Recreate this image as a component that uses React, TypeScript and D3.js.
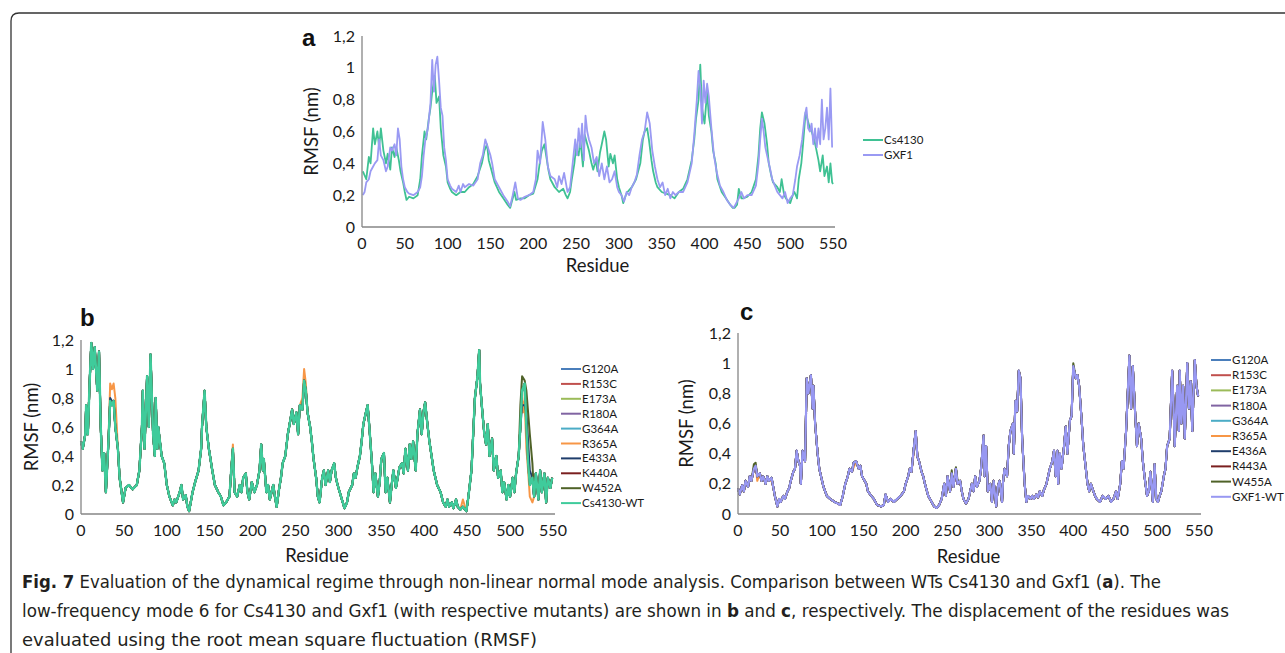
import React from 'react';
import * as d3 from 'd3';

type Pt = [number, number];

const residueTicks = [0, 50, 100, 150, 200, 250, 300, 350, 400, 450, 500, 550];
const rmsfTicks = [0, 0.2, 0.4, 0.6, 0.8, 1, 1.2];

// panel a: WT comparison
const cs4130A: Pt[] = [
  [1, 0.35], [5, 0.3], [8, 0.44], [10, 0.4], [13, 0.62], [15, 0.52], [18, 0.6], [20, 0.5], [22, 0.62], [25, 0.48],
  [28, 0.4], [30, 0.46], [33, 0.36], [35, 0.5], [38, 0.44], [40, 0.5], [43, 0.42], [45, 0.35], [48, 0.28], [50, 0.22],
  [52, 0.17], [55, 0.19], [60, 0.18], [65, 0.2], [68, 0.3], [70, 0.45], [73, 0.6], [75, 0.55], [78, 0.68], [80, 0.75],
  [82, 0.85], [85, 0.95], [87, 0.78], [90, 0.82], [92, 0.62], [95, 0.45], [98, 0.38], [100, 0.28], [103, 0.24], [105, 0.22],
  [110, 0.2], [115, 0.22], [120, 0.22], [125, 0.25], [130, 0.27], [135, 0.32], [140, 0.4], [143, 0.48], [146, 0.52], [148, 0.42],
  [150, 0.38], [155, 0.28], [160, 0.22], [165, 0.18], [170, 0.14], [173, 0.12], [175, 0.16], [178, 0.22], [180, 0.17], [185, 0.18],
  [190, 0.18], [195, 0.2], [200, 0.21], [205, 0.3], [208, 0.42], [210, 0.48], [213, 0.52], [215, 0.45], [218, 0.35], [220, 0.3],
  [225, 0.25], [230, 0.22], [235, 0.24], [238, 0.2], [240, 0.18], [243, 0.22], [245, 0.3], [248, 0.4], [250, 0.5], [253, 0.45],
  [255, 0.55], [258, 0.38], [260, 0.58], [263, 0.52], [265, 0.48], [268, 0.4], [270, 0.36], [273, 0.42], [275, 0.35], [278, 0.47],
  [280, 0.52], [283, 0.6], [285, 0.55], [288, 0.38], [290, 0.46], [293, 0.4], [295, 0.45], [298, 0.3], [300, 0.25], [303, 0.2],
  [305, 0.15], [308, 0.2], [310, 0.22], [315, 0.25], [320, 0.3], [325, 0.4], [328, 0.55], [330, 0.6], [333, 0.62], [335, 0.55],
  [338, 0.42], [340, 0.35], [343, 0.28], [345, 0.25], [350, 0.22], [355, 0.21], [360, 0.2], [365, 0.18], [370, 0.22], [375, 0.24],
  [380, 0.3], [385, 0.42], [388, 0.55], [390, 0.68], [393, 0.8], [395, 1.02], [397, 0.75], [400, 0.65], [403, 0.85], [405, 0.7],
  [408, 0.6], [410, 0.48], [413, 0.4], [415, 0.3], [420, 0.22], [425, 0.18], [430, 0.14], [433, 0.12], [435, 0.12], [438, 0.14],
  [440, 0.24], [443, 0.18], [445, 0.18], [450, 0.19], [455, 0.22], [460, 0.3], [463, 0.45], [465, 0.62], [467, 0.72], [470, 0.65],
  [473, 0.52], [475, 0.4], [478, 0.32], [480, 0.28], [485, 0.25], [488, 0.22], [490, 0.3], [493, 0.2], [495, 0.18], [500, 0.15],
  [503, 0.2], [505, 0.22], [508, 0.18], [510, 0.3], [513, 0.4], [515, 0.52], [518, 0.72], [520, 0.68], [523, 0.62], [525, 0.6],
  [528, 0.55], [530, 0.5], [533, 0.42], [535, 0.35], [538, 0.45], [540, 0.32], [543, 0.38], [545, 0.28], [547, 0.4], [549, 0.28], [550, 0.27],
];

const gxf1A: Pt[] = [
  [1, 0.2], [3, 0.22], [5, 0.28], [8, 0.3], [10, 0.35], [13, 0.38], [15, 0.4], [18, 0.42], [20, 0.55], [22, 0.45],
  [25, 0.42], [28, 0.35], [30, 0.38], [33, 0.5], [35, 0.48], [38, 0.52], [40, 0.45], [42, 0.62], [44, 0.55], [46, 0.38],
  [48, 0.3], [50, 0.25], [53, 0.22], [55, 0.21], [60, 0.2], [65, 0.22], [68, 0.25], [70, 0.32], [72, 0.45], [74, 0.55],
  [77, 0.62], [80, 0.78], [82, 1.05], [84, 0.85], [86, 1.02], [88, 1.07], [90, 0.92], [92, 0.75], [94, 0.7], [96, 0.5],
  [98, 0.42], [100, 0.3], [103, 0.26], [105, 0.24], [110, 0.22], [113, 0.26], [115, 0.22], [118, 0.27], [120, 0.25], [125, 0.27],
  [130, 0.26], [135, 0.3], [138, 0.4], [141, 0.45], [144, 0.55], [147, 0.5], [150, 0.45], [152, 0.4], [155, 0.3], [160, 0.25],
  [165, 0.2], [170, 0.16], [173, 0.13], [176, 0.2], [179, 0.28], [182, 0.18], [185, 0.17], [190, 0.19], [195, 0.2], [200, 0.22],
  [203, 0.3], [205, 0.48], [208, 0.4], [211, 0.66], [214, 0.55], [217, 0.38], [220, 0.32], [225, 0.3], [228, 0.25], [230, 0.32],
  [233, 0.27], [236, 0.34], [240, 0.22], [243, 0.25], [246, 0.4], [249, 0.55], [251, 0.45], [253, 0.62], [255, 0.5], [257, 0.65],
  [259, 0.42], [261, 0.7], [263, 0.6], [265, 0.55], [268, 0.5], [271, 0.4], [274, 0.44], [277, 0.32], [280, 0.4], [283, 0.3],
  [286, 0.38], [289, 0.28], [292, 0.3], [295, 0.35], [298, 0.25], [300, 0.22], [303, 0.2], [306, 0.16], [309, 0.22], [312, 0.2],
  [315, 0.25], [318, 0.28], [321, 0.33], [324, 0.45], [327, 0.55], [330, 0.6], [333, 0.72], [336, 0.65], [339, 0.48], [342, 0.38],
  [345, 0.3], [348, 0.25], [351, 0.28], [354, 0.2], [357, 0.24], [360, 0.18], [363, 0.22], [366, 0.2], [370, 0.22], [375, 0.22],
  [380, 0.28], [385, 0.4], [388, 0.58], [391, 0.8], [393, 0.98], [395, 0.88], [397, 0.65], [399, 0.92], [401, 0.78], [403, 0.9],
  [405, 0.82], [408, 0.62], [411, 0.45], [414, 0.35], [418, 0.26], [422, 0.22], [426, 0.17], [430, 0.14], [434, 0.12], [437, 0.15],
  [440, 0.18], [443, 0.22], [446, 0.18], [450, 0.2], [455, 0.2], [460, 0.26], [463, 0.4], [465, 0.55], [467, 0.68], [469, 0.6],
  [471, 0.5], [473, 0.45], [476, 0.38], [479, 0.3], [482, 0.26], [485, 0.22], [488, 0.2], [491, 0.18], [494, 0.22], [497, 0.15],
  [500, 0.18], [503, 0.2], [506, 0.3], [508, 0.38], [511, 0.45], [514, 0.55], [517, 0.7], [519, 0.75], [521, 0.62], [523, 0.6],
  [525, 0.65], [527, 0.52], [529, 0.62], [531, 0.5], [533, 0.62], [535, 0.52], [537, 0.8], [539, 0.55], [541, 0.62], [543, 0.75],
  [545, 0.55], [547, 0.87], [549, 0.5],
];

// panel b: Cs4130 mode 6
const cs4130Mode6: Pt[] = [
  [0, 0.5], [2, 0.45], [5, 0.55], [6, 0.75], [8, 0.55], [10, 0.9], [12, 1.18], [14, 1.0], [16, 1.15], [19, 0.85],
  [21, 1.12], [23, 0.6], [25, 0.3], [27, 0.42], [29, 0.15], [32, 0.5], [34, 0.78], [36, 0.75], [38, 0.78], [40, 0.6],
  [43, 0.45], [45, 0.25], [49, 0.08], [52, 0.18], [56, 0.2], [60, 0.17], [65, 0.2], [68, 0.3], [71, 0.6], [72, 0.85],
  [74, 0.45], [77, 0.95], [79, 0.6], [81, 1.1], [84, 0.55], [86, 0.4], [87, 0.8], [89, 0.45], [90, 0.6], [94, 0.4],
  [97, 0.35], [100, 0.2], [103, 0.12], [107, 0.06], [109, 0.1], [111, 0.08], [115, 0.15], [117, 0.2], [119, 0.1], [122, 0.13],
  [124, 0.05], [126, 0.02], [130, 0.15], [133, 0.22], [137, 0.3], [140, 0.45], [141, 0.6], [144, 0.85], [146, 0.6], [149, 0.45],
  [153, 0.3], [156, 0.2], [160, 0.15], [163, 0.12], [166, 0.06], [169, 0.08], [173, 0.12], [175, 0.3], [177, 0.45], [179, 0.15],
  [182, 0.12], [185, 0.2], [187, 0.15], [189, 0.25], [192, 0.28], [194, 0.15], [196, 0.1], [199, 0.22], [202, 0.15], [205, 0.2],
  [208, 0.3], [210, 0.48], [212, 0.3], [213, 0.38], [216, 0.15], [218, 0.2], [220, 0.1], [224, 0.2], [226, 0.12], [228, 0.05],
  [231, 0.18], [233, 0.25], [235, 0.35], [238, 0.4], [241, 0.55], [244, 0.65], [246, 0.72], [248, 0.62], [251, 0.7], [253, 0.55],
  [255, 0.75], [258, 0.72], [260, 0.92], [262, 0.85], [264, 0.7], [267, 0.6], [269, 0.5], [271, 0.38], [274, 0.25], [276, 0.12],
  [278, 0.08], [281, 0.25], [283, 0.3], [285, 0.2], [288, 0.3], [290, 0.22], [292, 0.3], [295, 0.35], [297, 0.25], [299, 0.2],
  [303, 0.12], [305, 0.08], [307, 0.04], [310, 0.08], [312, 0.15], [316, 0.2], [318, 0.28], [320, 0.25], [322, 0.32], [325, 0.4],
  [327, 0.5], [329, 0.62], [332, 0.7], [334, 0.75], [336, 0.6], [339, 0.35], [341, 0.15], [343, 0.28], [346, 0.12], [348, 0.22],
  [350, 0.38], [353, 0.42], [355, 0.15], [357, 0.25], [360, 0.08], [362, 0.2], [364, 0.3], [367, 0.18], [369, 0.25], [371, 0.32],
  [374, 0.35], [376, 0.28], [378, 0.45], [381, 0.3], [383, 0.48], [385, 0.38], [387, 0.5], [390, 0.3], [392, 0.55], [395, 0.72],
  [397, 0.55], [399, 0.7], [401, 0.77], [404, 0.6], [406, 0.5], [408, 0.42], [411, 0.3], [413, 0.25], [415, 0.2], [419, 0.15],
  [422, 0.08], [425, 0.05], [427, 0.1], [429, 0.05], [432, 0.08], [434, 0.04], [437, 0.1], [439, 0.05], [442, 0.03], [445, 0.05],
  [449, 0.02], [451, 0.1], [455, 0.3], [457, 0.55], [459, 0.8], [462, 0.95], [464, 1.13], [465, 0.9], [467, 0.75], [470, 0.55],
  [472, 0.48], [474, 0.62], [476, 0.4], [479, 0.52], [481, 0.3], [484, 0.4], [486, 0.25], [489, 0.3], [491, 0.15], [493, 0.22],
  [496, 0.1], [498, 0.2], [500, 0.12], [503, 0.25], [505, 0.15], [507, 0.28], [510, 0.4], [512, 0.6], [514, 0.85], [517, 0.9],
  [519, 0.6], [521, 0.35], [523, 0.2], [526, 0.25], [528, 0.12], [530, 0.28], [533, 0.1], [535, 0.3], [537, 0.15], [540, 0.28],
  [542, 0.08], [544, 0.25], [547, 0.18], [549, 0.25],
];

// panel c: GXF1 mode 6
const gxf1Mode6: Pt[] = [
  [0, 0.17], [2, 0.13], [5, 0.19], [7, 0.15], [9, 0.22], [12, 0.18], [14, 0.25], [16, 0.22], [19, 0.3], [21, 0.32],
  [23, 0.25], [26, 0.27], [28, 0.22], [30, 0.25], [33, 0.2], [35, 0.25], [37, 0.22], [40, 0.24], [42, 0.18], [44, 0.12],
  [47, 0.05], [49, 0.1], [51, 0.08], [54, 0.12], [56, 0.1], [59, 0.15], [61, 0.17], [63, 0.22], [66, 0.28], [68, 0.3],
  [70, 0.42], [72, 0.35], [74, 0.32], [75, 0.2], [77, 0.42], [80, 0.35], [82, 0.9], [84, 0.8], [87, 0.92], [89, 0.7],
  [90, 0.85], [92, 0.6], [95, 0.4], [97, 0.3], [99, 0.25], [102, 0.18], [104, 0.15], [106, 0.12], [110, 0.1], [115, 0.08],
  [119, 0.07], [122, 0.06], [125, 0.12], [128, 0.2], [131, 0.25], [133, 0.3], [136, 0.28], [138, 0.34], [141, 0.35], [144, 0.3],
  [146, 0.32], [148, 0.25], [151, 0.22], [153, 0.2], [155, 0.15], [159, 0.12], [162, 0.1], [166, 0.06], [171, 0.05], [174, 0.06],
  [176, 0.13], [179, 0.08], [182, 0.1], [186, 0.08], [190, 0.1], [194, 0.12], [198, 0.15], [200, 0.2], [203, 0.25], [205, 0.3],
  [207, 0.28], [210, 0.45], [212, 0.55], [214, 0.38], [216, 0.35], [219, 0.28], [221, 0.25], [223, 0.2], [227, 0.12], [231, 0.08],
  [234, 0.05], [237, 0.04], [240, 0.06], [243, 0.1], [246, 0.2], [248, 0.12], [250, 0.25], [253, 0.15], [255, 0.27], [257, 0.18],
  [260, 0.3], [262, 0.2], [265, 0.22], [267, 0.15], [269, 0.1], [272, 0.07], [275, 0.1], [279, 0.2], [281, 0.15], [283, 0.25],
  [285, 0.18], [288, 0.22], [290, 0.3], [293, 0.52], [294, 0.25], [296, 0.45], [298, 0.15], [301, 0.2], [303, 0.08], [305, 0.22],
  [308, 0.05], [310, 0.18], [312, 0.22], [315, 0.08], [316, 0.2], [318, 0.3], [321, 0.25], [323, 0.45], [325, 0.55], [328, 0.6],
  [329, 0.4], [331, 0.75], [333, 0.68], [335, 0.95], [337, 0.9], [339, 0.5], [342, 0.2], [344, 0.08], [346, 0.12], [349, 0.1],
  [351, 0.12], [353, 0.1], [356, 0.13], [358, 0.11], [360, 0.15], [363, 0.12], [365, 0.16], [368, 0.2], [370, 0.25], [372, 0.3],
  [375, 0.35], [377, 0.42], [379, 0.25], [381, 0.42], [382, 0.2], [384, 0.4], [386, 0.3], [389, 0.45], [391, 0.58], [393, 0.4],
  [396, 0.62], [398, 0.65], [400, 0.98], [403, 0.9], [405, 0.92], [407, 0.85], [410, 0.62], [412, 0.45], [414, 0.35], [417, 0.2],
  [419, 0.15], [421, 0.2], [424, 0.15], [426, 0.12], [428, 0.1], [432, 0.08], [435, 0.12], [439, 0.1], [442, 0.12], [445, 0.08],
  [448, 0.1], [451, 0.15], [453, 0.1], [456, 0.2], [458, 0.35], [460, 0.3], [463, 0.55], [465, 0.8], [467, 1.05], [469, 0.7],
  [471, 0.98], [474, 0.65], [476, 0.45], [478, 0.6], [481, 0.5], [483, 0.35], [485, 0.25], [488, 0.12], [490, 0.15], [492, 0.28],
  [495, 0.08], [497, 0.33], [499, 0.1], [501, 0.08], [503, 0.12], [505, 0.15], [508, 0.25], [510, 0.3], [512, 0.45], [515, 0.5],
  [517, 0.8], [518, 0.95], [520, 0.65], [521, 0.45], [524, 0.85], [526, 0.55], [527, 0.95], [529, 0.6], [531, 0.85], [533, 0.5],
  [536, 1.0], [538, 0.7], [540, 0.88], [542, 0.55], [543, 0.72], [545, 1.02], [547, 0.85], [549, 0.78],
];

const mutantsB = ['G120A', 'R153C', 'E173A', 'R180A', 'G364A', 'R365A', 'E433A', 'K440A', 'W452A'];
const mutantsC = ['G120A', 'R153C', 'E173A', 'R180A', 'G364A', 'R365A', 'E436A', 'R443A', 'W455A'];
const mutantColors = ['#4a7ebb', '#c0504d', '#9bbb59', '#8064a2', '#4bacc6', '#f79646', '#1f3d6b', '#7a1f1f', '#4f6228'];

// where a mutant line departs from the WT line (residue, RMSF)
const r365aB: Pt[] = [[34, 0.9], [36, 0.86], [38, 0.9], [40, 0.8], [177, 0.48], [258, 0.8], [260, 1.0], [262, 0.9], [445, 0.1], [515, 0.7], [517, 0.78], [519, 0.45], [521, 0.3], [523, 0.12], [526, 0.08]];
const w452aB: Pt[] = [[512, 0.75], [514, 0.95], [517, 0.92], [519, 0.85], [521, 0.7], [523, 0.55], [526, 0.35]];
const e433aB: Pt[] = [[34, 0.8], [36, 0.78], [514, 0.75], [517, 0.75], [519, 0.7], [521, 0.5], [523, 0.3]];
const w455aC: Pt[] = [[19, 0.33], [21, 0.34], [255, 0.29], [260, 0.31], [262, 0.22], [400, 1.0]];
const r365aC: Pt[] = [[23, 0.22], [40, 0.22], [138, 0.31], [210, 0.42]];

const overridesB: Pt[][] = [[], [], [], [], [], r365aB, e433aB, [], w452aB];
const overridesC: Pt[][] = [[], [], [], [], [], r365aC, [], [], w455aC];

const withOverrides = (base: Pt[], over: Pt[]): Pt[] => {
  const m = new Map<number, number>(base);
  over.forEach(([r, v]) => m.set(r, v));
  return Array.from(m.entries()).sort((a, b) => a[0] - b[0]);
};

const fmt = (v: number) => (v === 0 ? '0' : v === 1 ? '1' : v.toFixed(1).replace('.', ','));

const FONT = "Lato, 'Open Sans', sans-serif";

type Series = { name: string; color: string; data: Pt[]; width: number };

type PanelProps = {
  letter: string;
  letterX: number;
  letterY: number;
  x0: number;
  x1: number;
  yBottom: number;
  yTop: number;
  series: Series[];
  legendX: number;
  legendY: number;
  legendStep: number;
  titleY: number;
  rmsfX: number;
};

const Panel = ({ letter, letterX, letterY, x0, x1, yBottom, yTop, series, legendX, legendY, legendStep, titleY, rmsfX }: PanelProps) => {
  const x = d3.scaleLinear().domain([0, 550]).range([x0, x1]);
  const y = d3.scaleLinear().domain([0, 1.2]).range([yBottom, yTop]);
  const line = d3.line<Pt>().x(d => x(d[0])).y(d => y(d[1]));
  return (
    <g>
      <text x={letterX} y={letterY} style={{ fontFamily: "'Liberation Sans', Arial, sans-serif", fontSize: 24, fontWeight: 'bold' }} fill="#111">{letter}</text>
      {series.map(s => (
        <path key={s.name} d={line(s.data) || ''} fill="none" stroke={s.color} strokeWidth={s.width} strokeLinejoin="round" />
      ))}
      <line x1={x0} x2={x0} y1={yTop} y2={yBottom} stroke="#868686" strokeWidth={1.3} />
      <line x1={x0} x2={x1 + 2} y1={yBottom} y2={yBottom} stroke="#868686" strokeWidth={1.3} />
      {rmsfTicks.map(t => (
        <text key={t} x={x0 - 7} y={y(t)} dy="0.35em" textAnchor="end" style={{ fontFamily: FONT, fontSize: 16 }} fill="#1a1a1a">{fmt(t)}</text>
      ))}
      {residueTicks.map(t => (
        <text key={t} x={x(t)} y={yBottom + 22} textAnchor="middle" style={{ fontFamily: FONT, fontSize: 16 }} fill="#1a1a1a">{t}</text>
      ))}
      <text x={(x0 + x1) / 2} y={titleY} textAnchor="middle" style={{ fontFamily: FONT, fontSize: 18.5 }} fill="#1a1a1a">Residue</text>
      <text transform={`translate(${rmsfX}, ${(yTop + yBottom) / 2}) rotate(-90)`} textAnchor="middle" style={{ fontFamily: FONT, fontSize: 18.5 }} fill="#1a1a1a">RMSF (nm)</text>
      {series.map((s, i) => (
        <g key={s.name} transform={`translate(${legendX}, ${legendY + i * legendStep})`}>
          <line x1={0} x2={20} y1={0} y2={0} stroke={s.color} strokeWidth={2} />
          <text x={21} y={0} dy="0.35em" style={{ fontFamily: FONT, fontSize: 11.5 }} fill="#1a1a1a">{s.name}</text>
        </g>
      ))}
    </g>
  );
};

const App = () => {
  const seriesA: Series[] = [
    { name: 'Cs4130', color: '#3fc193', data: cs4130A, width: 1.8 },
    { name: 'GXF1', color: '#9a9af3', data: gxf1A, width: 1.8 },
  ];
  const seriesB: Series[] = [
    ...mutantsB.map((name, i) => ({ name, color: mutantColors[i], data: withOverrides(cs4130Mode6, overridesB[i]), width: 2 })),
    { name: 'Cs4130-WT', color: '#3fcb9b', data: cs4130Mode6, width: 2.4 },
  ];
  const seriesC: Series[] = [
    ...mutantsC.map((name, i) => ({ name, color: mutantColors[i], data: withOverrides(gxf1Mode6, overridesC[i]), width: 2 })),
    { name: 'GXF1-WT', color: '#9898f2', data: gxf1Mode6, width: 2.2 },
  ];
  const capStyle = { fontFamily: "'DejaVu Sans', sans-serif", fontStretch: 'condensed', fontSize: 18 };
  return (
    <svg width={1285} height={653} style={{ position: 'absolute', left: 0, top: 0, background: '#fff' }}>
      <path d="M 11 653 L 11 21 Q 11 13 19 13 L 1285 13" fill="none" stroke="#333" strokeWidth={1.3} />
      <Panel letter="a" letterX={302} letterY={46} x0={362} x1={833} yBottom={227} yTop={36} series={seriesA}
        legendX={863} legendY={140} legendStep={15} titleY={272} rmsfX={318} />
      <Panel letter="b" letterX={80} letterY={326} x0={81} x1={553} yBottom={514} yTop={340} series={seriesB}
        legendX={561} legendY={369} legendStep={14.9} titleY={562} rmsfX={38} />
      <Panel letter="c" letterX={740} letterY={320} x0={738} x1={1199} yBottom={514} yTop={333} series={seriesC}
        legendX={1211} legendY={360} legendStep={15.2} titleY={563} rmsfX={693} />
      <g fill="#231f20" style={capStyle}>
        <text x={22} y={588} textLength={1139} lengthAdjust="spacingAndGlyphs">
          <tspan fontWeight="bold">Fig. 7</tspan>{'  Evaluation of the dynamical regime through non-linear normal mode analysis. Comparison between WTs Cs4130 and Gxf1 ('}<tspan fontWeight="bold">a</tspan>{'). The'}
        </text>
        <text x={22} y={617} textLength={1207} lengthAdjust="spacingAndGlyphs">
          {'low-frequency mode 6 for Cs4130 and Gxf1 (with respective mutants) are shown in '}<tspan fontWeight="bold">b</tspan>{' and '}<tspan fontWeight="bold">c</tspan>{', respectively. The displacement of the residues was'}
        </text>
        <text x={22} y={646} textLength={515} lengthAdjust="spacingAndGlyphs">
          evaluated using the root mean square fluctuation (RMSF)
        </text>
      </g>
    </svg>
  );
};

export default App;
